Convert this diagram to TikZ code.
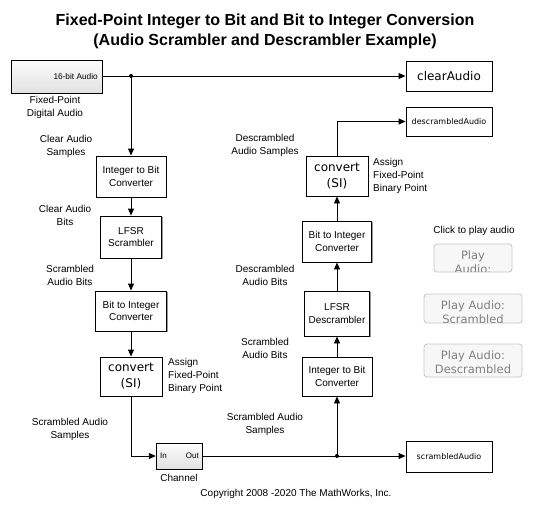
\documentclass[tikz,border=0pt]{standalone}
\usepackage{fontspec}
\setmainfont{Liberation Sans}
\newfontfamily\dvs{DejaVu Sans}
\usetikzlibrary{arrows.meta,shadows}
\tikzset{
  blk/.style={draw=black, line width=0.9pt, fill=white, inner sep=0pt, align=center,
    font=\fontsize{10}{12.5}\selectfont,
    general shadow={fill=black!40, shadow xshift=1.2pt, shadow yshift=-1.2pt}},
  gblk/.style={draw=none, fill=none, inner sep=0pt},
  sink/.style={blk, font=\dvs\fontsize{12}{14}\selectfont},
  convbox/.style={blk, font=\dvs\fontsize{12}{16}\selectfont},
  lbl/.style={align=center, inner sep=0pt, font=\fontsize{10}{13}\selectfont},
  lbll/.style={align=left, inner sep=0pt, font=\fontsize{10}{13}\selectfont, anchor=west},
  wire/.style={line width=0.9pt, -{Triangle[length=7pt,width=6pt]}},
  jdot/.style={circle, fill=black, inner sep=0pt, minimum size=4pt},
  btn/.style={draw=black!22, line width=0.8pt, fill=black!3, rounded corners=3pt},
  btntxt/.style={align=center, inner sep=0pt, text=black!50, font=\dvs\fontsize{11.5}{14}\selectfont}
}
% box with shadow, white-to-grey horizontal strips and border: x1,y1 (top left), x2,y2 (bottom right)
\newcommand\gradbox[4]{%
  \fill[black!40] (#1+1.2,#2+1.2) rectangle (#3+1.2,#4+1.2);
  \fill[white] (#1,#2) rectangle (#3,#4);
  \foreach \i in {0,...,19} {
    \pgfmathsetmacro\ya{#2+(#4-#2)*\i/20}
    \pgfmathsetmacro\yb{#2+(#4-#2)*(\i+1)/20+0.3}
    \pgfmathsetmacro\cc{1+\i*0.55}
    \fill[black!\cc] (#1,\ya) rectangle (#3,\yb);
  }%
  \draw[line width=0.9pt] (#1,#2) rectangle (#3,#4);
}
\begin{document}
\begin{tikzpicture}[x=1pt,y=-1pt]
\path[use as bounding box, fill=white] (0,0) rectangle (537,513);

% title
\node[align=center, inner sep=0pt, font=\bfseries\fontsize{16}{20}\selectfont] (title) at (265,31)
  {Fixed-Point Integer to Bit and Bit to Integer Conversion\\(Audio Scrambler and Descrambler Example)};

% blocks
\gradbox{11}{60}{102}{93}
\node[gblk, minimum width=91pt, minimum height=33pt] (src) at (56.5,76.5) {};
\node[inner sep=0pt, anchor=east, font=\fontsize{8.3}{10}\selectfont] (srct) at (98,76.5) {16-bit Audio};
\node[sink, minimum width=86pt, minimum height=30pt] (clear) at (449,76) {clearAudio};
\node[sink, font=\dvs\fontsize{8}{10}\selectfont, minimum width=86pt, minimum height=29pt] (descr) at (449,121.5) {descrambledAudio};
\node[sink, font=\dvs\fontsize{8}{10}\selectfont, minimum width=86pt, minimum height=31pt] (scr) at (449,456.5) {scrambledAudio};

\node[blk, minimum width=70pt, minimum height=41pt] (i2b1) at (131,176.5) {Integer to Bit\\Converter};
\node[blk, minimum width=61pt, minimum height=42pt] (lfsr1) at (131,237) {LFSR\\Scrambler};
\node[blk, minimum width=71pt, minimum height=40pt] (b2i1) at (131,311) {Bit to Integer\\Converter};
\node[convbox, minimum width=62pt, minimum height=39pt] (conv1) at (131,376.5) {convert\\(SI)};
\gradbox{156}{443}{202}{469}
\node[gblk, minimum width=46pt, minimum height=26pt] (chan) at (179,456) {};
\node[inner sep=0pt, anchor=west, font=\fontsize{8}{10}\selectfont] (chin) at (160,456) {In};
\node[inner sep=0pt, anchor=east, font=\fontsize{8}{10}\selectfont] (chout) at (199,456) {Out};

\node[blk, minimum width=70pt, minimum height=39pt] (i2b2) at (337,376.5) {Integer to Bit\\Converter};
\node[blk, minimum width=65pt, minimum height=45pt] (lfsr2) at (337,313.5) {LFSR\\Descrambler};
\node[blk, minimum width=69pt, minimum height=41pt] (b2i2) at (337,241.5) {Bit to Integer\\Converter};
\node[convbox, minimum width=62pt, minimum height=40pt] (conv2) at (337,176) {convert\\(SI)};

% junctions
\node[jdot] (j1) at (131,76) {};
\node[jdot] (j2) at (337,456) {};

% wires
\draw[wire] (src.east |- j1) -- (clear.west |- j1);
\draw[wire] (j1.center) -- (i2b1.north);
\draw[wire] (i2b1) -- (lfsr1);
\draw[wire] (lfsr1) -- (b2i1);
\draw[wire] (b2i1) -- (conv1);
\draw[wire] (conv1.south) |- (chan.west);
\draw[wire] (chan.east) -- (scr.west |- chan.east);
\draw[wire] (j2.center) -- (i2b2.south);
\draw[wire] (i2b2) -- (lfsr2);
\draw[wire] (lfsr2) -- (b2i2);
\draw[wire] (b2i2) -- (conv2);
\draw[wire] (conv2.north) |- (descr.west);

% labels
\node[lbl] (l1) at (55,107.5) {Fixed-Point\\Digital Audio};
\node[lbl] (l2) at (66,146) {Clear Audio\\Samples};
\node[lbl] (l3) at (65,215.5) {Clear Audio\\Bits};
\node[lbl] (l4) at (70,275.5) {Scrambled\\Audio Bits};
\node[lbll] (l5) at (168,376) {Assign\\Fixed-Point\\Binary Point};
\node[lbl] (l6) at (70,429.5) {Scrambled Audio\\Samples};
\node[lbl] (l7) at (179,478) {Channel};
\node[lbl] (r1) at (265,145.5) {Descrambled\\Audio Samples};
\node[lbll] (r2) at (373,176) {Assign\\Fixed-Point\\Binary Point};
\node[lbl] (r3) at (265,275.5) {Descrambled\\Audio Bits};
\node[lbl] (r4) at (265,348.5) {Scrambled\\Audio Bits};
\node[lbl] (r5) at (265,424.5) {Scrambled Audio\\Samples};
\node[lbl] (click) at (474,231) {Click to play audio};
\node[lbl] (copy) at (296,494) {Copyright 2008 -2020 The MathWorks, Inc.};

% buttons
\path[btn] (434,244) rectangle (512,272);
\begin{scope}
  \clip (435,245) rectangle (511,271);
  \node[btntxt] (b1) at (473,262) {Play\\Audio:};
\end{scope}
\path[btn] (424,294) rectangle (522,323);
\begin{scope}
  \clip (425,295) rectangle (521,322);
  \node[btntxt] (b2) at (473,312.5) {Play Audio:\\Scrambled};
\end{scope}
\path[btn] (424,344) rectangle (522,377);
\begin{scope}
  \clip (425,345) rectangle (521,376);
  \node[btntxt] (b3) at (473,362) {Play Audio:\\Descrambled};
\end{scope}
\end{tikzpicture}
\end{document}
